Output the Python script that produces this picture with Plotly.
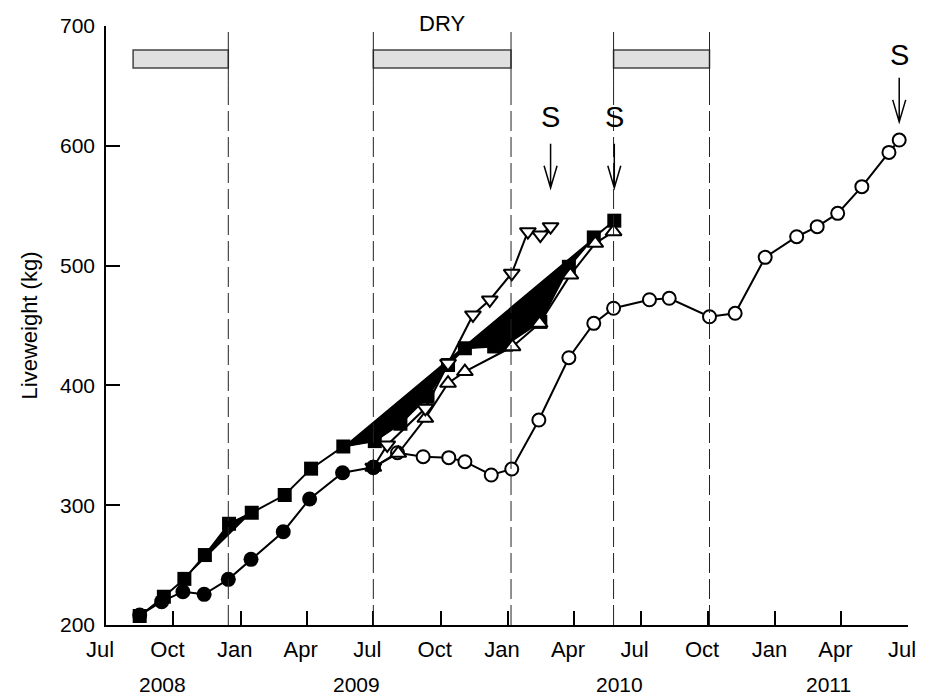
import pandas as pd
import plotly.graph_objects as go

# ---- data -------------------------------------------------------------
tick_dates = ['2008-07-01', '2008-10-01', '2009-01-01', '2009-04-01',
              '2009-07-01', '2009-10-01', '2010-01-01', '2010-04-01',
              '2010-07-01', '2010-10-01', '2011-01-01', '2011-04-01',
              '2011-07-01']
tick_text = ['Jul', 'Oct', 'Jan', 'Apr', 'Jul', 'Oct', 'Jan', 'Apr',
             'Jul', 'Oct', 'Jan', 'Apr', 'Jul']
y_ticks = [200, 300, 400, 500, 600, 700]

year_labels = ['2008', '2009', '2010', '2011']
year_label_dates = ['2008-09-16', '2009-06-08', '2010-06-02', '2011-03-15']

# dry seasons
dry_start = ['2008-08-07', '2009-07-01', '2010-05-25']
dry_end = ['2008-12-15', '2010-01-05', '2010-10-03']

# filled squares
sq_dates = ['2008-08-16', '2008-09-18', '2008-10-16', '2008-11-13',
            '2008-12-16', '2009-01-16', '2009-03-02', '2009-04-07',
            '2009-05-21', '2009-07-03', '2009-08-07', '2009-09-13',
            '2009-10-11', '2009-11-03', '2009-12-13', '2009-12-29',
            '2010-02-14', '2010-03-25', '2010-04-28', '2010-05-26']
sq_values = [207.5, 223.6, 238.5, 258.4, 284.5, 293.7, 308.5, 330.5,
             349.0, 353.5, 368.0, 390.5, 417.0, 431.0, 432.5, 434.0,
             453.0, 499.0, 523.5, 537.5]

# filled circles
fc_dates = ['2008-08-16', '2008-09-15', '2008-10-14', '2008-11-12',
            '2008-12-15', '2009-01-15', '2009-02-28', '2009-04-05',
            '2009-05-20', '2009-07-01']
fc_values = [208.3, 219.5, 227.8, 225.6, 238.1, 254.8, 277.9, 305.2,
             327.1, 331.6]

# open circles
oc_dates = ['2009-07-01', '2009-08-03', '2009-09-07', '2009-10-12',
            '2009-11-03', '2009-12-09', '2010-01-06', '2010-02-12',
            '2010-03-25', '2010-04-28', '2010-05-25', '2010-07-13',
            '2010-08-09', '2010-10-03', '2010-11-07', '2010-12-18',
            '2011-01-30', '2011-02-27', '2011-03-27', '2011-04-29',
            '2011-06-05', '2011-06-19']
oc_values = [331.6, 343.8, 340.5, 339.7, 336.3, 325.2, 330.2, 371.1,
             423.1, 451.8, 464.4, 471.5, 472.7, 457.3, 460.2, 506.9,
             524.1, 532.5, 543.6, 565.9, 594.5, 604.8]

# open triangles (up)
tu_dates = ['2009-07-01', '2009-08-04', '2009-09-10', '2009-10-11',
            '2009-11-03', '2010-01-07', '2010-02-13', '2010-03-27',
            '2010-04-30', '2010-05-25']
tu_values = [331.6, 343.3, 372.5, 401.8, 411.5, 432.3, 451.8, 492.2,
             518.6, 528.3]

# open triangles (down)
td_dates = ['2009-07-01', '2009-07-20', '2009-09-10', '2009-10-11',
            '2009-11-14', '2009-12-07', '2010-01-06', '2010-01-28',
            '2010-02-14', '2010-02-28']
td_values = [331.6, 350.3, 380.9, 418.4, 458.8, 471.3, 493.6, 528.3,
             525.5, 532.5]

# slaughter markers: arrow tip level and label level
s_dates = [td_dates[-1], sq_dates[-1], oc_dates[-1]]
s_tips = [565, 565, 620]
s_text_y = [624, 624, 676]

FONT = 'Liberation Sans, Arial, sans-serif'

fig = go.Figure()

# solid black wedges along the square series
for i0, i1 in [(2, 6), (8, 19)]:
    fig.add_trace(go.Scatter(
        x=sq_dates[i0:i1], y=sq_values[i0:i1], mode='lines',
        fill='toself', fillcolor='black',
        line=dict(color='black', width=1), hoverinfo='skip'))

fig.add_trace(go.Scatter(
    x=sq_dates, y=sq_values, mode='lines+markers',
    line=dict(color='black', width=2),
    marker=dict(symbol='square', size=14, color='black')))

fig.add_trace(go.Scatter(
    x=oc_dates, y=oc_values, mode='lines+markers',
    line=dict(color='black', width=2),
    marker=dict(symbol='circle', size=13, color='white',
                line=dict(color='black', width=2))))

fig.add_trace(go.Scatter(
    x=tu_dates, y=tu_values, mode='lines+markers',
    line=dict(color='black', width=2),
    marker=dict(symbol='triangle-up', size=14, color='white',
                line=dict(color='black', width=2))))

fig.add_trace(go.Scatter(
    x=td_dates, y=td_values, mode='lines+markers',
    line=dict(color='black', width=2),
    marker=dict(symbol='triangle-down', size=14, color='white',
                line=dict(color='black', width=2))))

fig.add_trace(go.Scatter(
    x=fc_dates, y=fc_values, mode='lines+markers',
    line=dict(color='black', width=2),
    marker=dict(symbol='circle', size=15, color='black')))

shapes = []
# dry season bars
for a, b in zip(dry_start, dry_end):
    shapes.append(dict(type='rect', xref='x', yref='y', x0=a, x1=b,
                       y0=665, y1=680, fillcolor='#e0e0e0',
                       line=dict(color='#444444', width=1.5), layer='above'))
# season boundaries
boundaries = sorted(set(dry_start[1:] + dry_end))
for d in boundaries:
    shapes.append(dict(type='line', xref='x', yref='y', x0=d, x1=d,
                       y0=650, y1=695, line=dict(color='#222222', width=1)))
    shapes.append(dict(type='line', xref='x', yref='y', x0=d, x1=d,
                       y0=200, y1=650,
                       line=dict(color='#222222', width=1, dash='20px,6px')))
# slaughter arrows
for d, tip in zip(s_dates, s_tips):
    shapes.append(dict(type='path', xref='x', yref='y',
                       xsizemode='pixel', ysizemode='pixel',
                       xanchor=d, yanchor=tip,
                       path='M0,0 L0,44 M-6.5,22 L0,0 L6.5,22',
                       line=dict(color='black', width=1.5)))

annotations = []
for d, y in zip(s_dates, s_text_y):
    annotations.append(dict(x=d, y=y, xref='x', yref='y', text='S',
                            showarrow=False, yanchor='middle',
                            font=dict(size=29, family=FONT)))
mid2 = pd.Timestamp(dry_start[1]) + (pd.Timestamp(dry_end[1]) - pd.Timestamp(dry_start[1])) / 2
annotations.append(dict(x=mid2.strftime('%Y-%m-%d'), y=690, xref='x', yref='y',
                        text='DRY', showarrow=False, yanchor='bottom',
                        font=dict(size=22, family=FONT)))
for d, t in zip(year_label_dates, year_labels):
    annotations.append(dict(x=d, y=-0.0985, xref='x', yref='paper', text=t,
                            showarrow=False, yanchor='middle',
                            font=dict(size=21, family=FONT)))

fig.update_layout(
    width=925, height=700,
    margin=dict(l=106, r=9, t=26, b=75),
    plot_bgcolor='white', paper_bgcolor='white',
    showlegend=False,
    font=dict(family=FONT, size=22, color='black'),
    shapes=shapes, annotations=annotations,
    xaxis=dict(type='date', range=['2008-07-01', '2011-07-01'],
               tickvals=tick_dates, ticktext=tick_text,
               ticks='inside', ticklen=14, tickwidth=1.5, tickcolor='black',
               showline=True, linewidth=1.5, linecolor='black',
               showgrid=False, zeroline=False,
               ticklabelshift=-6, ticklabelstandoff=4,
               tickfont=dict(size=22, family=FONT)),
    yaxis=dict(range=[200, 700], tickvals=y_ticks,
               ticks='inside', ticklen=14, tickwidth=1.5, tickcolor='black',
               showline=True, linewidth=1.5, linecolor='black',
               showgrid=False, zeroline=False,
               ticklabelstandoff=5,
               tickfont=dict(size=21, family=FONT),
               title=dict(text='Liveweight (kg)', standoff=16,
                          font=dict(size=22, family=FONT))),
)

fig.write_html('out.html')
